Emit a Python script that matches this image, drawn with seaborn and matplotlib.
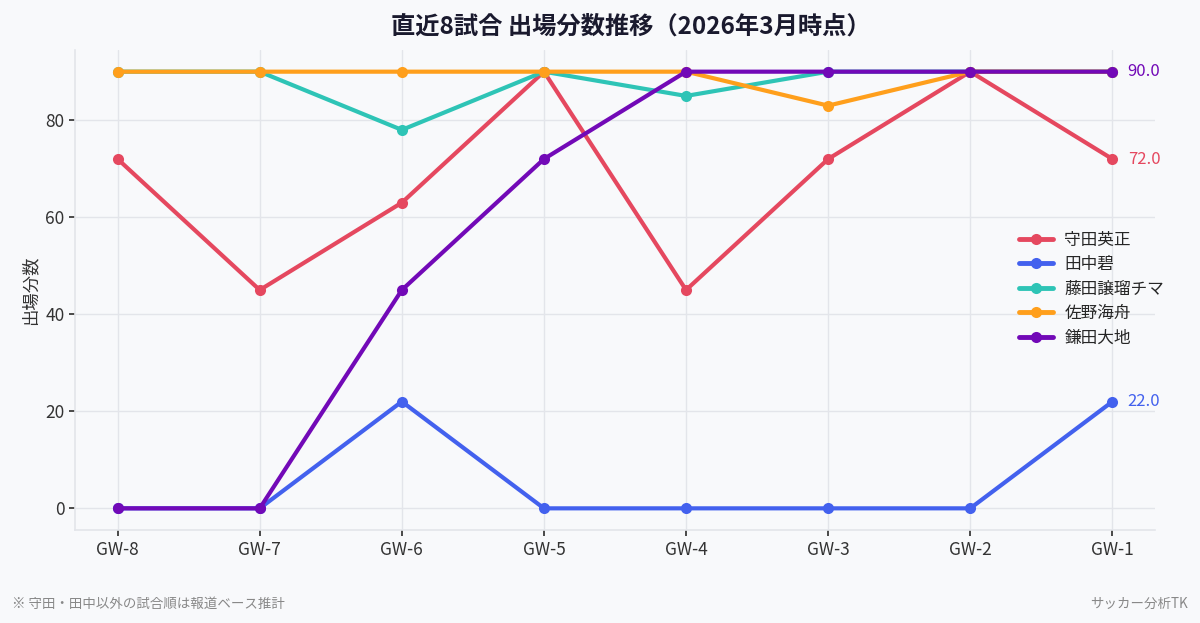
import pandas as pd
import matplotlib
matplotlib.use('Agg')
import matplotlib.pyplot as plt
import seaborn as sns

# データ
matches = ['GW-8', 'GW-7', 'GW-6', 'GW-5', 'GW-4', 'GW-3', 'GW-2', 'GW-1']
players = ['守田英正', '田中碧', '藤田譲瑠チマ', '佐野海舟', '鎌田大地']
morita = [72, 45, 63, 90, 45, 72, 90, 72]
tanaka = [0, 0, 22, 0, 0, 0, 0, 22]
fujita = [90, 90, 78, 90, 85, 90, 90, 90]
sano = [90, 90, 90, 90, 90, 83, 90, 90]
kamada = [0, 0, 45, 72, 90, 90, 90, 90]
colors = ['#E5485F', '#4361EE', '#2EC4B6', '#FF9F1C', '#7209B7']

series = [morita, tanaka, fujita, sano, kamada]
rows = []
for name, vals in zip(players, series):
    for i, (m, v) in enumerate(zip(matches, vals)):
        rows.append({'試合': m, 'idx': i, '選手': name, '出場分数': v})
df = pd.DataFrame(rows)

sns.set_theme(style='whitegrid')
plt.rcParams['font.family'] = ['Noto Sans CJK JP', 'DejaVu Sans']
plt.rcParams['axes.unicode_minus'] = False

bg = '#F8F9FB'
fig = plt.figure(figsize=(12, 6.23), dpi=100, facecolor=bg)
ax = fig.add_axes([0.0625, 0.149, 0.9, 0.771])
ax.set_facecolor(bg)

palette = dict(zip(players, colors))
sns.lineplot(data=df, x='idx', y='出場分数', hue='選手', palette=palette,
             marker='o', markersize=8, markeredgewidth=0, linewidth=3,
             sort=False, ax=ax)

# 最終試合のラベル（後の選手と重なる値は後ろ側になるので省略）
for k, (name, vals, c) in enumerate(zip(players, series, colors)):
    last = vals[-1]
    if any(s[-1] == last for s in series[k + 1:]):
        continue
    ax.annotate(f'{last:.1f}', (len(matches) - 1, last),
                xytext=(11, 0), textcoords='offset points',
                va='center', ha='left', color=c, fontsize=12)

ax.set_xticks(range(len(matches)))
ax.set_xticklabels(matches)
ax.set_xlim(-0.3, len(matches) - 1 + 0.3)
ax.set_ylim(-4.5, 94.5)
ax.set_yticks([0, 20, 40, 60, 80])
ax.set_xlabel('')
ax.set_ylabel('出場分数', fontsize=12.5, color='#333333')
ax.tick_params(axis='both', labelsize=12.5, colors='#333333', length=4,
               left=True, bottom=True)
ax.grid(True, color='#E3E5EA', linewidth=1)
for s in ['top', 'right']:
    ax.spines[s].set_visible(False)
for s in ['left', 'bottom']:
    ax.spines[s].set_color('#E3E5EA')
    ax.spines[s].set_linewidth(1.2)

ax.set_title('直近8試合 出場分数推移（2026年3月時点）', fontsize=17.5,
             fontweight='bold', color='#1A1A2E', pad=12, x=0.515)

leg = ax.legend(loc='center left', bbox_to_anchor=(0.837, 0.536),
                bbox_transform=fig.transFigure, frameon=False,
                fontsize=12, handlelength=2.0, labelspacing=0.45,
                handletextpad=0.7)
for line in leg.get_lines():
    line.set_linewidth(3.5)

fig.text(0.01, 0.03, '※ 守田・田中以外の試合順は報道ベース推計', fontsize=9.7,
         color='#888888', ha='left', va='center')
fig.text(0.99, 0.03, 'サッカー分析TK', fontsize=9.7, color='#888888',
         ha='right', va='center')

fig.savefig('out.png', dpi=100, facecolor=bg)
